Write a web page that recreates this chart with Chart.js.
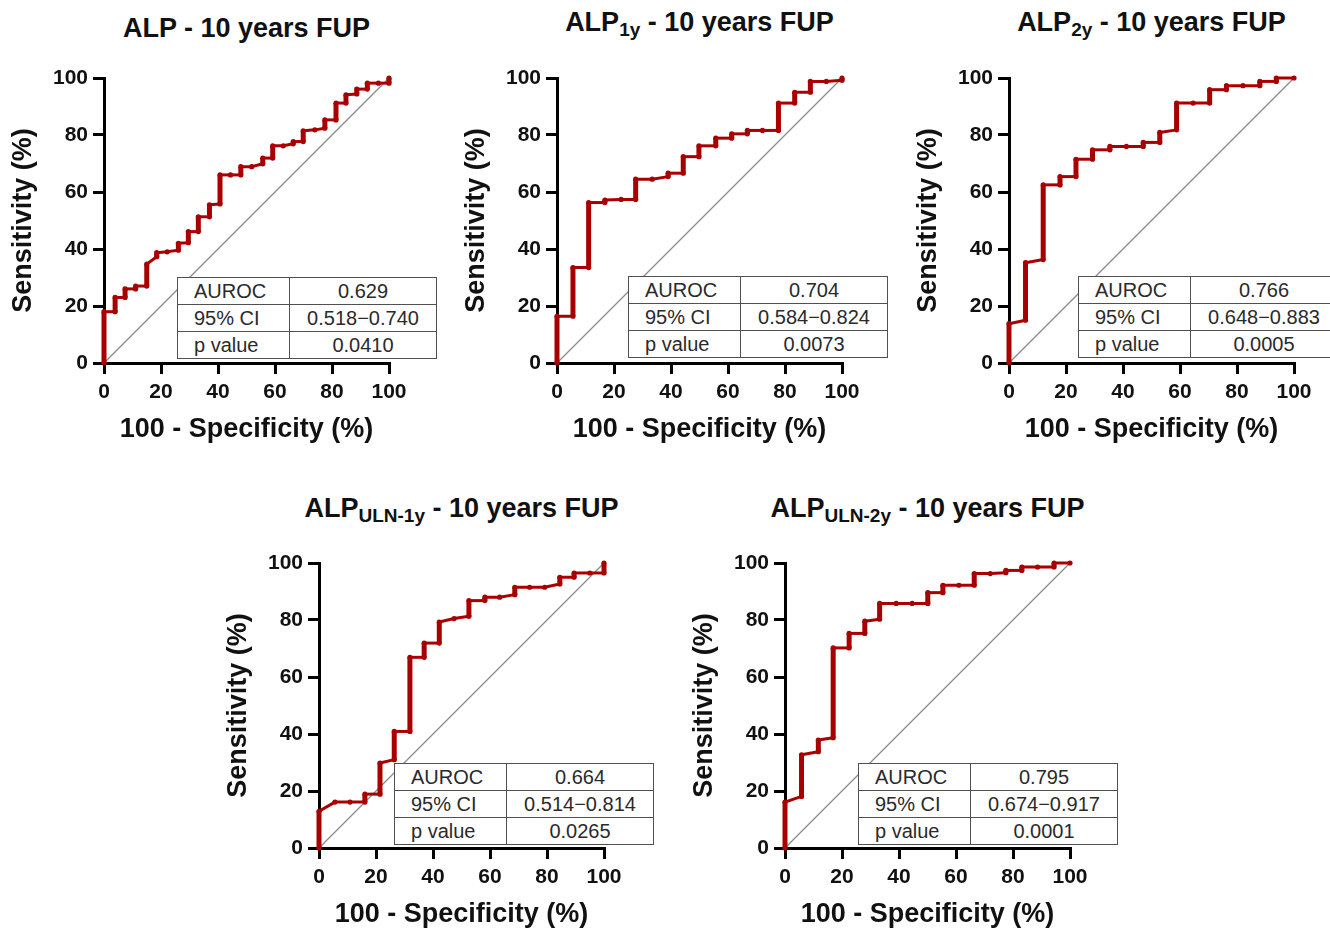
<!DOCTYPE html>
<html>
<head>
<meta charset="utf-8">
<script src="https://cdn.jsdelivr.net/npm/chart.js@4.4.0/dist/chart.umd.min.js"></script>
<style>
  body { margin: 0; width: 1330px; height: 929px; overflow: hidden; background: #fff; position: relative;
         font-family: "Liberation Sans", Arial, sans-serif; }
  canvas { position: absolute; }
  .ttl { position: absolute; width: 460px; text-align: center; font-weight: bold; font-size: 27px;
         line-height: 30px; color: #111; white-space: nowrap; }
  .ttl sub { font-size: 19px; vertical-align: -5px; line-height: 0; }
  table.stats { position: absolute; border-collapse: collapse; background: #fff; table-layout: fixed;
                width: 260px; font-size: 20px; color: #2a2a2a; }
  table.stats td { border: 1.5px solid #505050; height: 26px; padding: 0; white-space: nowrap; }
  table.stats td.lab { width: 112px; padding-left: 16px; box-sizing: border-box; }
  table.stats td.val { text-align: center; }
</style>
</head>
<body>
<script>
// axis ticks and reference (chance) line
const xTickValues = [0, 20, 40, 60, 80, 100];
const yTickValues = [0, 20, 40, 60, 80, 100];
const chanceX = [0, 100];
const chanceY = [0, 100];
const statLabels = ['AUROC', '95% CI', 'p value'];

// ALP
const alpX = [0, 0, 3.9, 3.9, 7.4, 7.4, 11.1, 11.1, 15, 15, 18.5, 18.5, 22.2, 26.1, 26.1, 29.6, 29.6, 33.1, 33.1, 37, 37,
  40.7, 40.7, 44.4, 48, 48, 51.8, 55.7, 55.7, 59.2, 59.2, 62.9, 66.4, 66.4, 69.9, 69.9, 74, 77.5, 77.5, 81.4, 81.4,
  84.9, 84.9, 88.7, 88.7, 92.4, 92.4, 96.3, 100, 100];
const alpY = [0, 18, 18, 23, 23, 26, 26, 27, 27, 34.7, 37.3, 38.7, 39, 39.6, 42, 42.2, 46.1, 46.1, 51.3, 51.3, 55.5,
  55.8, 66, 66, 66, 68.9, 68.9, 69.9, 71.9, 71.9, 76.2, 76.2, 76.9, 77.7, 77.7, 81.5, 81.8, 82.4, 85.3, 85.3, 91.2,
  91.2, 94.1, 94.4, 96.1, 96.1, 98.2, 98.2, 98.2, 100];
const alpStats = ['0.629', '0.518\u22120.740', '0.0410'];

// ALP 1y
const alp1yX = [0, 0, 5.6, 5.6, 11.1, 11.1, 16.8, 16.8, 22.5, 27.6, 27.6, 33.4, 39, 39, 44.3, 44.3, 49.8, 49.8, 55.7,
  55.7, 61.3, 61.3, 66.8, 66.8, 72.1, 77.7, 77.7, 83.4, 83.4, 88.9, 88.9, 94.5, 100, 100];
const alp1yY = [0, 16.4, 16.4, 33.5, 33.5, 56.3, 56.3, 57.2, 57.4, 57.4, 64.5, 64.5, 65.4, 66.6, 66.6, 72.4, 72.4,
  76.2, 76.2, 78.9, 78.9, 80.4, 80.4, 81.6, 81.6, 81.6, 91.2, 91.2, 95, 95, 98.8, 98.8, 99.2, 100];
const alp1yStats = ['0.704', '0.584\u22120.824', '0.0073'];

// ALP 2y
const alp2yX = [0, 0, 5.8, 5.8, 12, 12, 17.9, 17.9, 23.5, 23.5, 29.3, 29.3, 35.4, 35.4, 41.2, 47.1, 47.1, 52.9, 52.9,
  58.8, 58.8, 64.6, 70.4, 70.4, 76.3, 76.3, 82.1, 88, 88, 93.8, 93.8, 100];
const alp2yY = [0, 13.8, 15, 35.2, 36.3, 62.5, 62.5, 65.4, 65.4, 71.5, 71.5, 74.8, 74.8, 76, 76, 76, 77.4, 77.4, 80.9,
  81.8, 91.2, 91.2, 91.2, 95.9, 95.9, 97.3, 97.3, 97.3, 98.8, 98.8, 100, 100];
const alp2yStats = ['0.766', '0.648\u22120.883', '0.0005'];

// ALP ULN-1y
const alpUln1yX = [0, 0, 5.6, 10.9, 16.1, 16.1, 21.4, 21.4, 26.4, 26.4, 31.9, 31.9, 36.9, 36.9, 42.2, 42.2, 47.4, 52.6,
  52.6, 58.2, 58.2, 63.4, 68.7, 68.7, 73.9, 79.2, 84.5, 84.5, 89.5, 89.5, 95, 100, 100];
const alpUln1yY = [0, 12.9, 16.1, 16.1, 16.1, 18.9, 18.9, 29.8, 31, 40.9, 40.9, 66.9, 66.9, 71.9, 71.9, 79.3, 80.5, 81.3,
  86.8, 86.8, 88, 88, 88.9, 91.5, 91.5, 91.5, 92.6, 95, 95, 96.5, 96.5, 96.5, 100];
const alpUln1yStats = ['0.664', '0.514\u22120.814', '0.0265'];

// ALP ULN-2y
const alpUln2yX = [0, 0, 5.8, 5.8, 11.7, 11.7, 16.9, 16.9, 22.5, 22.5, 28, 28, 33.2, 33.2, 39, 44.6, 50.1, 50.1, 55.4,
  55.4, 61, 66.4, 66.4, 72, 77.5, 77.5, 83.1, 83.1, 88.6, 94.4, 94.4, 100];
const alpUln2yY = [0, 16.1, 18.1, 32.7, 33.8, 37.9, 38.7, 70.2, 70.2, 75.3, 75.3, 79.6, 80.3, 85.8, 85.8, 85.8, 85.8,
  89.6, 89.6, 92.2, 92.2, 92.2, 96.3, 96.3, 96.6, 97.4, 97.4, 98.6, 98.6, 98.6, 100, 100];
const alpUln2yStats = ['0.795', '0.674\u22120.917', '0.0001'];

const RED = '#a80000';
const FONT = 'Liberation Sans';

const panels = [
  { x0: 104, y100: 78, name: 'ALP', sub: '', ttlTop: 13, xs: alpX, ys: alpY, stats: alpStats, tbl: [177, 277] },
  { x0: 557, y100: 78, name: 'ALP', sub: '1y', ttlTop: 7, xs: alp1yX, ys: alp1yY, stats: alp1yStats, tbl: [628, 276] },
  { x0: 1009, y100: 78, name: 'ALP', sub: '2y', ttlTop: 7, xs: alp2yX, ys: alp2yY, stats: alp2yStats, tbl: [1078, 276] },
  { x0: 319, y100: 563, name: 'ALP', sub: 'ULN-1y', ttlTop: 493, xs: alpUln1yX, ys: alpUln1yY, stats: alpUln1yStats, tbl: [394, 763] },
  { x0: 785, y100: 563, name: 'ALP', sub: 'ULN-2y', ttlTop: 493, xs: alpUln2yX, ys: alpUln2yY, stats: alpUln2yStats, tbl: [858, 763] }
];

const PLOT = 285, YW = 104, XH = 85, PT = 20, PR = 30;

function addTitle(p) {
  const d = document.createElement('div');
  d.className = 'ttl';
  d.style.left = (p.x0 + PLOT / 2 - 230) + 'px';
  d.style.top = p.ttlTop + 'px';
  d.innerHTML = p.name + (p.sub ? '<sub>' + p.sub + '</sub>' : '') + ' - 10 years FUP';
  document.body.appendChild(d);
}

function addTable(p) {
  const t = document.createElement('table');
  t.className = 'stats';
  t.style.left = p.tbl[0] + 'px';
  t.style.top = p.tbl[1] + 'px';
  statLabels.forEach((lab, i) => {
    const tr = document.createElement('tr');
    const a = document.createElement('td');
    a.className = 'lab';
    a.textContent = lab;
    const b = document.createElement('td');
    b.className = 'val';
    b.textContent = p.stats[i];
    tr.appendChild(a);
    tr.appendChild(b);
    t.appendChild(tr);
  });
  document.body.appendChild(t);
}

function addChart(p) {
  const cv = document.createElement('canvas');
  const W = YW + PLOT + PR, H = PT + PLOT + XH;
  cv.width = W; cv.height = H;
  cv.style.left = (p.x0 - YW) + 'px';
  cv.style.top = (p.y100 - PT) + 'px';
  cv.style.width = W + 'px';
  cv.style.height = H + 'px';
  document.body.appendChild(cv);

  const tickFont = { family: FONT, size: 21, weight: 'bold' };
  const titleFont = { family: FONT, size: 27, weight: 'bold' };
  const grid = { drawOnChartArea: false, drawTicks: true, tickLength: 11, lineWidth: 3, color: '#000' };
  const border = { display: true, color: '#000', width: 3 };

  new Chart(cv.getContext('2d'), {
    type: 'line',
    data: {
      datasets: [
        {
          data: p.xs.map((x, i) => ({ x: x, y: p.ys[i] })),
          borderColor: RED,
          backgroundColor: RED,
          borderWidth: 3,
          pointRadius: 2.6,
          pointBackgroundColor: RED,
          pointBorderWidth: 0,
          tension: 0,
          clip: false,
          segment: {
            borderWidth: c => (c.p0.parsed.x === c.p1.parsed.x ? 5 : 3)
          }
        },
        {
          data: chanceX.map((x, i) => ({ x: x, y: chanceY[i] })),
          borderColor: '#8a8a8a',
          borderWidth: 1.3,
          pointRadius: 0,
          clip: false
        }
      ]
    },
    options: {
      animation: false,
      responsive: false,
      layout: { padding: { top: PT, right: PR, left: 0, bottom: 0 } },
      plugins: { legend: { display: false }, tooltip: { enabled: false } },
      scales: {
        x: {
          type: 'linear', min: 0, max: 100,
          afterBuildTicks: s => { s.ticks = xTickValues.map(v => ({ value: v })); },
          afterFit: s => { s.height = XH; s.paddingLeft = 0; s.paddingRight = 0; },
          ticks: { font: tickFont, color: '#111', padding: 6, maxRotation: 0 },
          grid: grid, border: border,
          title: { display: true, text: '100 - Specificity (%)', font: titleFont, color: '#111', padding: 2 }
        },
        y: {
          type: 'linear', min: 0, max: 100,
          afterBuildTicks: s => { s.ticks = yTickValues.map(v => ({ value: v })); },
          afterFit: s => { s.width = YW; s.paddingTop = 0; s.paddingBottom = 0; },
          ticks: { font: tickFont, color: '#111', padding: 5 },
          grid: grid, border: border,
          title: { display: true, text: 'Sensitivity (%)', font: titleFont, color: '#111', padding: 7 }
        }
      }
    }
  });
}

panels.forEach(p => {
  addChart(p);
  addTitle(p);
  addTable(p);
});
</script>
</body>
</html>
